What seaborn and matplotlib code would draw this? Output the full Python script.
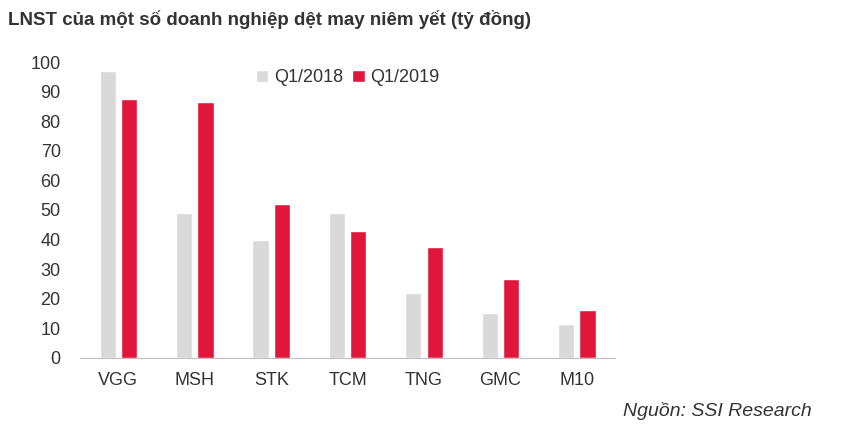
import pandas as pd
import matplotlib.pyplot as plt
import seaborn as sns

companies = ['VGG', 'MSH', 'STK', 'TCM', 'TNG', 'GMC', 'M10']
q1_2018 = [97, 49, 40, 49, 22, 15, 11.5]
q1_2019 = [87.5, 86.5, 52, 43, 37.5, 26.5, 16]
periods = ['Q1/2018', 'Q1/2019']

df = pd.DataFrame({
    'company': companies * 2,
    'value': q1_2018 + q1_2019,
    'period': [periods[0]] * len(companies) + [periods[1]] * len(companies),
})

sns.set_style("white")
plt.rcParams['font.family'] = 'Liberation Sans'

fig = plt.figure(figsize=(8.53, 4.28), dpi=100)
ax = fig.add_axes([0.094, 0.164, 0.627, 0.691])

sns.barplot(data=df, x='company', y='value', hue='period',
            palette=['#d9d9d9', '#e0173a'], width=0.56, gap=0.25,
            saturation=1, ax=ax)

ax.set_ylim(0, 100)
ax.set_yticks(range(0, 101, 10))
ax.set_xlabel('')
ax.set_ylabel('')
ax.tick_params(axis='both', labelsize=13, colors='#333333', length=0)
ax.tick_params(axis='y', pad=14)
ax.tick_params(axis='x', pad=10)
for s in ['top', 'right', 'left']:
    ax.spines[s].set_visible(False)
ax.spines['bottom'].set_color('#bfbfbf')

leg = ax.legend(loc='upper center', bbox_to_anchor=(0.5, 1.03), ncol=2, frameon=False,
                fontsize=13, handlelength=0.7, handleheight=0.7,
                handletextpad=0.3, columnspacing=0.5)
for t in leg.get_texts():
    t.set_color('#333333')

fig.text(0.009, 0.955, 'LNST của một số doanh nghiệp dệt may niêm yết (tỷ đồng)',
         fontsize=13.5, fontweight='bold', color='#333333', va='center')
fig.text(0.952, 0.04, 'Nguồn: SSI Research', fontsize=14, style='italic',
         color='#333333', ha='right', va='center')

plt.savefig('out.png', dpi=100)
plt.close()
